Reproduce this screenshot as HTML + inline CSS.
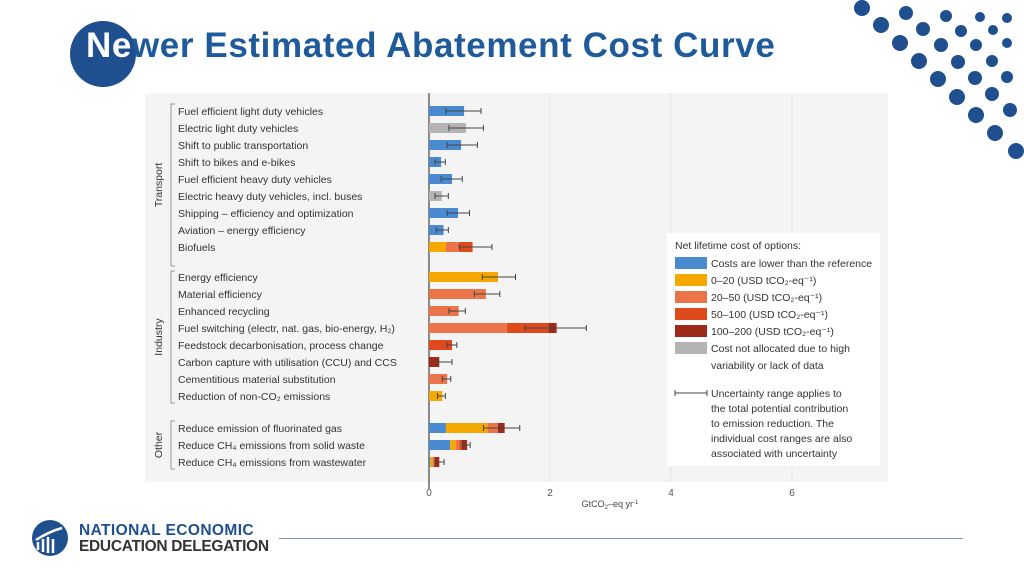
<!DOCTYPE html>
<html><head><meta charset="utf-8">
<style>
body{margin:0;width:1024px;height:576px;background:#fff;overflow:hidden;font-family:"Liberation Sans",sans-serif;position:relative}
#title{position:absolute;left:86px;top:26px;font-size:35px;font-weight:bold;color:#1f5b9a;letter-spacing:0.6px;white-space:nowrap}
#circle{position:absolute;left:70px;top:21px;width:66px;height:66px;border-radius:50%;background:#1f4f8f}
</style></head>
<body>
<div id="circle"></div>
<div id="title"><span style="color:#fff">Ne</span>wer Estimated Abatement Cost Curve</div>
<svg id="dots" width="1024" height="576" style="position:absolute;left:0;top:0;pointer-events:none"></svg>
<svg id="chart" width="1024" height="576" style="position:absolute;left:0;top:0" font-family="Liberation Sans, sans-serif"></svg>
<div style="position:absolute;left:32px;top:520px">
<svg width="36" height="36"><circle cx="18" cy="18" r="18" fill="#1f4f8f"/><path d="M6 30 L6 22 M11 32 L11 19 M16 33 L16 17 M21 33 L21 19 M4 20 Q16 12 30 8" stroke="#fff" stroke-width="2.5" fill="none"/></svg>
</div>
<div style="position:absolute;left:79px;top:523px;font-weight:bold;font-size:15.5px;line-height:16px;letter-spacing:0.4px"><span style="color:#1f4f8f">NATIONAL ECONOMIC</span><br><span style="color:#333;letter-spacing:-0.3px">EDUCATION DELEGATION</span></div>
<div style="position:absolute;left:279px;top:538px;width:684px;height:1px;background:#7a97b5"></div>
<script>
const NS="http://www.w3.org/2000/svg";
function mk(p,t,a){const e=document.createElementNS(NS,t);for(const k in a)e.setAttribute(k,a[k]);p.appendChild(e);return e;}
const dots=document.getElementById('dots');
const dotX=[862,881,900,919,938,957,976,995,1016,906,923,941,958,975,992,1010,946,961,976,992,1007,980,993,1007,1007];
const dotY=[8,25,43,61,79,97,115,133,151,13,29,45,62,78,94,110,16,31,45,61,77,17,30,43,18];
const dotR=[8,8,8,8,8,8,8,8,8,7,7,7,7,7,7,7,6,6,6,6,6,5,5,5,5];
dotX.forEach((x,i)=>{const c=mk(dots,'circle',{cx:x,cy:dotY[i],r:dotR[i],fill:'#1f4f8f'});

});

// data
const labels=["Fuel efficient light duty vehicles","Electric light duty vehicles","Shift to public transportation","Shift to bikes and e-bikes","Fuel efficient heavy duty vehicles","Electric heavy duty vehicles, incl. buses","Shipping – efficiency and optimization","Aviation – energy efficiency","Biofuels",
"Energy efficiency","Material efficiency","Enhanced recycling","Fuel switching (electr, nat. gas, bio-energy, H₂)","Feedstock decarbonisation, process change","Carbon capture with utilisation (CCU) and CCS","Cementitious material substitution","Reduction of non-CO₂ emissions",
"Reduce emission of fluorinated gas","Reduce CH₄ emissions from solid waste","Reduce CH₄ emissions from wastewater"];
const rowY=[111,128,145,162,179,196,213,230,247,277,294,311,328,345,362,379,396,428,445,462];
const blue  =[0.58,0,0.53,0.20,0.38,0,0.48,0.24,0, 0,0,0,0,0,0,0,0, 0.28,0.35,0.02];
const c0_20 =[0,0,0,0,0,0,0,0,0.28, 1.14,0,0,0,0,0,0,0.22, 0.69,0.09,0.04];
const c20_50=[0,0,0,0,0,0,0,0,0.22, 0,0.94,0.49,1.29,0,0,0.30,0, 0.17,0.06,0.03];
const c50_100=[0,0,0,0,0,0,0,0,0.22, 0,0,0,0.68,0.38,0,0,0, 0,0.04,0];
const c100_200=[0,0,0,0,0,0,0,0,0, 0,0,0,0.14,0,0.17,0,0, 0.11,0.09,0.08];
const gray  =[0,0.61,0,0,0,0.21,0,0,0, 0,0,0,0,0,0,0,0, 0,0,0];
const errLo =[0.28,0.33,0.30,0.10,0.20,0.10,0.30,0.12,0.50, 0.88,0.75,0.33,1.59,0.30,0.15,0.22,0.14, 0.90,0.55,0.10];
const errHi =[0.86,0.90,0.80,0.27,0.55,0.32,0.67,0.32,1.04, 1.43,1.17,0.60,2.60,0.46,0.38,0.36,0.27, 1.50,0.68,0.25];
const ticks=[0,2,4,6];
const series=[[blue,'#4a8ad0','blue'],[c0_20,'#f5a800','0-20'],[c20_50,'#eb7448','20-50'],[c50_100,'#df4a1c','50-100'],[c100_200,'#9e2a1a','100-200'],[gray,'#b3b3b3','not-allocated']];
const X=v=>429+v*60.5;

const s=document.getElementById('chart');
let r=mk(s,'rect',{x:145,y:93,width:743,height:389,fill:'#f4f4f4'});

ticks.forEach(t=>{if(t>0){const g=mk(s,'line',{x1:X(t),x2:X(t),y1:93,y2:482,stroke:'#e6e6e6','stroke-width':1});
}
const tl=mk(s,'text',{x:X(t),y:496,'font-size':10,fill:'#555','text-anchor':'middle'});tl.textContent=t;
});
let ax=mk(s,'line',{x1:429,x2:429,y1:93,y2:489,stroke:'#666','stroke-width':1.5});

let xt=mk(s,'text',{x:610,y:507,'font-size':9,fill:'#444','text-anchor':'middle'});
xt.innerHTML='GtCO<tspan font-size="6" dy="2">2</tspan><tspan dy="-2">–eq yr</tspan><tspan font-size="6" dy="-3">-1</tspan>';


labels.forEach((l,i)=>{const y=rowY[i];
const t=mk(s,'text',{x:178,y:y+4,'font-size':10.5,fill:'#333'});t.textContent=l;

let acc=0;
series.forEach(([arr,col,nm])=>{const v=arr[i];if(v>0){const b=mk(s,'rect',{x:X(acc),y:y-5,width:v*60.5,height:10,fill:col});
acc+=v;}});
const e=mk(s,'path',{d:`M${X(errLo[i])} ${y}H${X(errHi[i])}M${X(errLo[i])} ${y-3}V${y+3}M${X(errHi[i])} ${y-3}V${y+3}`,stroke:'#444','stroke-width':1,fill:'none'});
});

[["Transport",104,266],["Industry",271,403],["Other",421,469]].forEach(([n,a,b])=>{
const br=mk(s,'path',{d:`M175 ${a}H171V${b}H175`,stroke:'#999',fill:'none'});

const m=(a+b)/2;const t=mk(s,'text',{x:162,y:m,'font-size':10.5,fill:'#333','text-anchor':'middle',transform:`rotate(-90 162 ${m})`});t.textContent=n;
});

// legend
let lg=mk(s,'rect',{x:667,y:233,width:213,height:233,fill:'#fff'});

let lt=mk(s,'text',{x:675,y:249,'font-size':10.5,fill:'#333'});lt.textContent='Net lifetime cost of options:';

const legTxt=['Costs are lower than the reference','0–20 (USD tCO₂-eq⁻¹)','20–50 (USD tCO₂-eq⁻¹)','50–100 (USD tCO₂-eq⁻¹)','100–200 (USD tCO₂-eq⁻¹)','Cost not allocated due to high'];
series.forEach(([a,col,nm],i)=>{const y=257+i*17;
const sw=mk(s,'rect',{x:675,y:y,width:32,height:12,fill:col});
const t=mk(s,'text',{x:711,y:y+10,'font-size':10.5,fill:'#333'});t.textContent=legTxt[i];
});
const extra=[['variability or lack of data',369],['Uncertainty range applies to',397],['the total potential contribution',412],['to emission reduction. The',427],['individual cost ranges are also',442],['associated with uncertainty',457]];
extra.forEach(([tx,y])=>{const t=mk(s,'text',{x:711,y:y,'font-size':10.5,fill:'#333'});t.textContent=tx;
});
let le=mk(s,'path',{d:'M675 393H707M675 390V396M707 390V396',stroke:'#444',fill:'none'});

</script>
</body></html>
